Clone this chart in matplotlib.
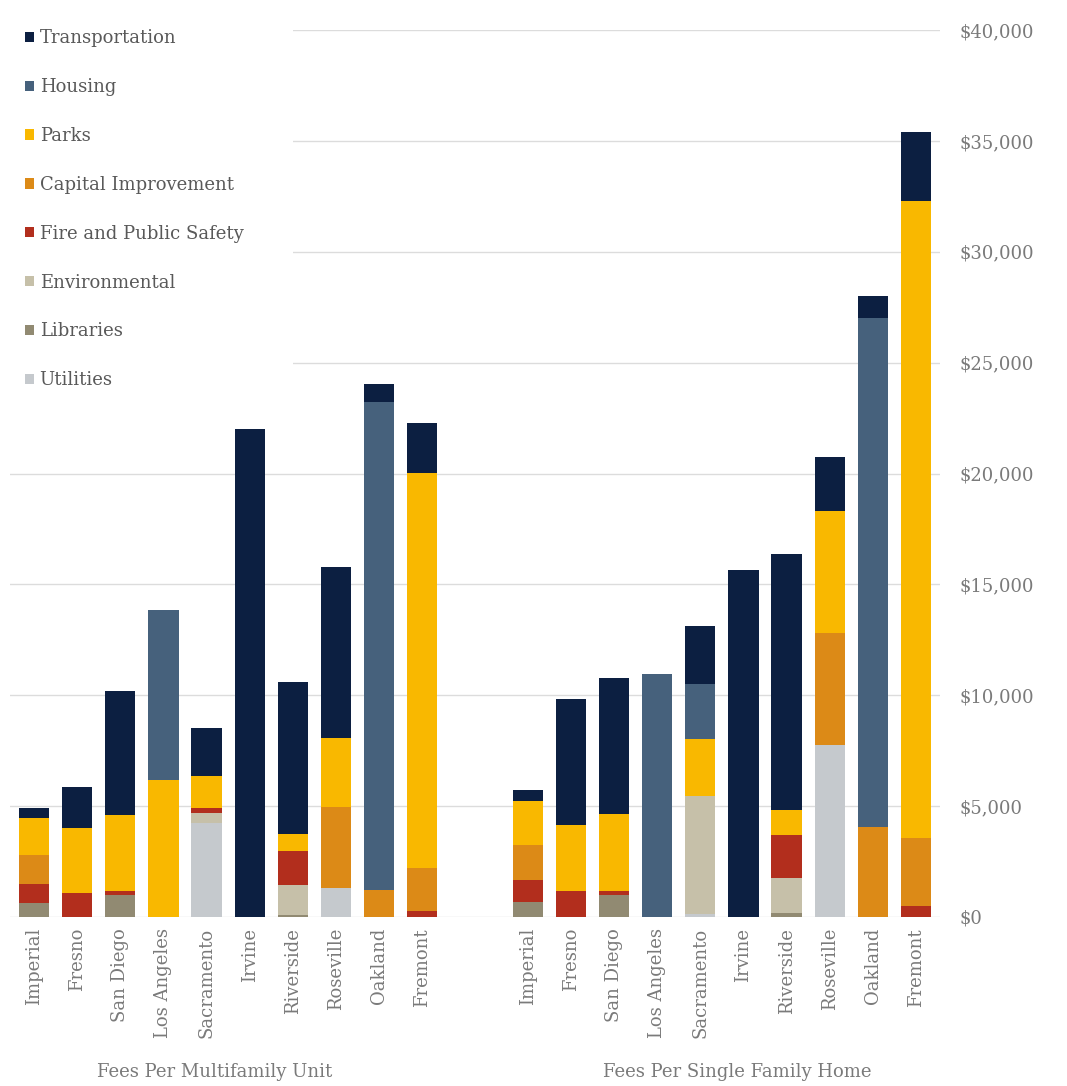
import numpy as np
import matplotlib
matplotlib.use("Agg")
import matplotlib.pyplot as plt
from matplotlib.patches import Rectangle

# villes (meme ordre pour les deux groupes)
cities = ["Imperial", "Fresno", "San Diego", "Los Angeles", "Sacramento",
          "Irvine", "Riverside", "Roseville", "Oakland", "Fremont"]

# categories de frais, du bas vers le haut de la pile
fee_types = ["Utilities", "Libraries", "Environmental", "Fire and Public Safety",
             "Capital Improvement", "Parks", "Housing", "Transportation"]

# Fees Per Multifamily Unit (en dollars)
mf_utilities = [0, 0, 0, 0, 4250, 0, 0, 1290, 0, 0]
mf_libraries = [650, 0, 990, 0, 0, 0, 90, 0, 0, 0]
mf_environmental = [0, 0, 0, 0, 420, 0, 1370, 0, 0, 0]
mf_fire = [840, 1070, 200, 0, 250, 0, 1500, 0, 0, 290]
mf_capital = [1290, 0, 0, 0, 0, 0, 0, 3660, 1220, 1900]
mf_parks = [1700, 2950, 3420, 6160, 1430, 0, 780, 3110, 0, 17840]
mf_housing = [0, 0, 0, 7700, 0, 0, 0, 0, 21990, 0]
mf_transport = [420, 1830, 5580, 0, 2180, 22000, 6850, 7710, 810, 2250]

# Fees Per Single Family Home (en dollars)
sf_utilities = [0, 0, 0, 0, 150, 0, 0, 7760, 0, 0]
sf_libraries = [660, 0, 980, 0, 0, 0, 160, 0, 0, 0]
sf_environmental = [0, 0, 0, 0, 5290, 0, 1600, 0, 0, 0]
sf_fire = [1010, 1170, 190, 0, 0, 0, 1960, 0, 0, 510]
sf_capital = [1580, 0, 0, 0, 0, 0, 0, 5030, 4060, 3050]
sf_parks = [1980, 2990, 3470, 0, 2590, 0, 1110, 5530, 0, 28740]
sf_housing = [0, 0, 0, 10980, 2480, 0, 0, 0, 22950, 0]
sf_transport = [480, 5690, 6160, 0, 2610, 15630, 11550, 2430, 990, 3100]

group_labels = ["Fees Per Multifamily Unit", "Fees Per Single Family Home"]
y_ticks = [0, 5000, 10000, 15000, 20000, 25000, 30000, 35000, 40000]

colors = {
    "Transportation": "#0c1f41",
    "Housing": "#46617c",
    "Parks": "#f9b800",
    "Capital Improvement": "#dc8a17",
    "Fire and Public Safety": "#b22e1d",
    "Environmental": "#c6c0a9",
    "Libraries": "#918a72",
    "Utilities": "#c5c9cd",
}

mf = [mf_utilities, mf_libraries, mf_environmental, mf_fire,
      mf_capital, mf_parks, mf_housing, mf_transport]
sf = [sf_utilities, sf_libraries, sf_environmental, sf_fire,
      sf_capital, sf_parks, sf_housing, sf_transport]

W, H = 1067, 1086
fig = plt.figure(figsize=(W / 100, H / 100), dpi=100)
ax = fig.add_axes([10 / W, (H - 917) / H, (940 - 10) / W, (917 - 30) / H])

serif = ["DejaVu Serif"]
txt_col = "#7a7a7a"
fs = 13

x_mf = np.arange(10)
x_sf = np.arange(10) + 11.46
bar_w = 0.70

# les piles
for xs, series in [(x_mf, mf), (x_sf, sf)]:
    bottom = np.zeros(10)
    for name, vals in zip(fee_types, series):
        vals = np.array(vals, dtype=float)
        ax.bar(xs, vals, bar_w, bottom=bottom, color=colors[name],
               label=name if xs is x_mf else None, zorder=3, linewidth=0)
        bottom += vals

ax.set_ylim(0, 40000)
ax.set_xlim(-0.56, x_sf[-1] + 0.56)
ax.set_yticks(y_ticks)
ax.set_yticklabels(["$" + format(v, ",") for v in y_ticks], family=serif,
                   fontsize=fs, color=txt_col)
ax.yaxis.tick_right()
ax.tick_params(axis="y", length=0, pad=14)
ax.tick_params(axis="x", length=0, pad=8)
ax.grid(axis="y", color="#dcdcdc", linewidth=1, zorder=0)
ax.set_axisbelow(True)
for s in ax.spines.values():
    s.set_visible(False)

ax.set_xticks(list(x_mf) + list(x_sf))
ax.set_xticklabels(cities + cities, rotation=90, family=serif,
                   fontsize=fs, color=txt_col)

# cache des lignes de grille derriere la legende
ax.add_patch(Rectangle((0, 1 - (400 - 30) / 887), (293 - 10) / 930, 1,
                       transform=ax.transAxes, facecolor="white",
                       edgecolor="none", zorder=1, clip_on=False))

# legende dans l'ordre inverse de la pile
handles, labels = ax.get_legend_handles_labels()
leg = fig.legend(handles[::-1], labels[::-1], loc="upper left",
                 bbox_to_anchor=(18 / W, 1 - 22 / H), frameon=False,
                 prop={"family": serif, "size": fs},
                 handlelength=0.5, handleheight=0.5, handletextpad=0.3,
                 labelspacing=1.71, borderaxespad=0)
for t in leg.get_texts():
    t.set_color("#595959")

# titres des groupes
fig.text(215 / W, 1 - 1072 / H, group_labels[0], ha="center", va="center",
         family=serif, fontsize=fs, color=txt_col)
fig.text(737 / W, 1 - 1072 / H, group_labels[1], ha="center", va="center",
         family=serif, fontsize=fs, color=txt_col)

fig.savefig("out.png", dpi=100, facecolor="white")
